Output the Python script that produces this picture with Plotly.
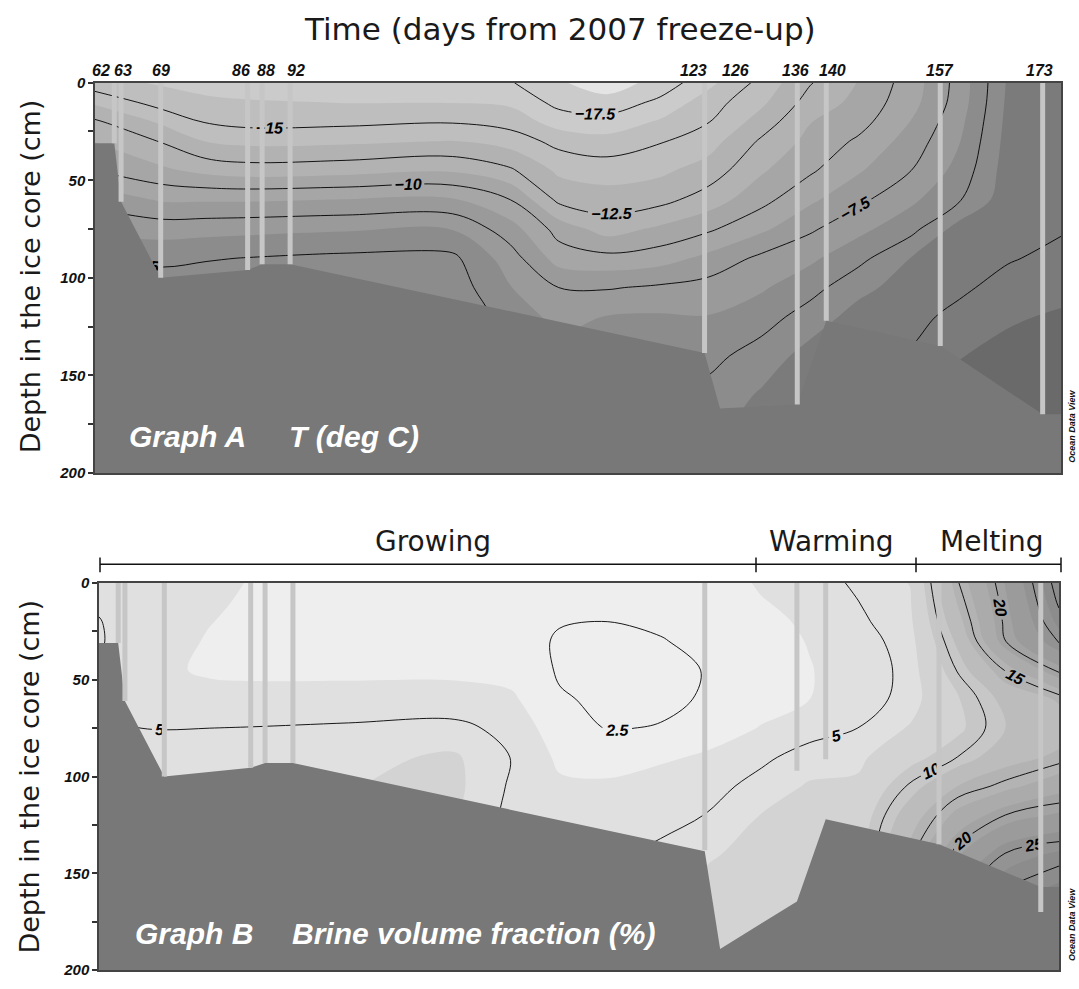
import numpy as np
import plotly.graph_objects as go

W, H = 1079, 989

# ---------------- sampling days and their places along the section (0-100) ----------------
days = [62, 63, 69, 86, 88, 92, 123, 126, 136, 140, 157, 173]
core_pos = [2.0, 2.7, 6.8, 15.8, 17.3, 20.2, 63.1, 64.7, 72.7, 75.7, 87.5, 98.1]
label_nudge = [-13, 2, 0, -7, 4, 6, -11, 15, -2, 6, 0, -3]  # px, keeps crowded labels apart

# sampled core length (cm) shown as vertical bars; None = no bar drawn
temp_core_len = [31, 61, 100, 96, 93, 93, 138.5, None, 165, 122, 135, 170]
brine_core_len = [31, 61, 100, 95.5, 93, 93, 138, None, 97, 91, 135, 170]
# deepest valid level per core (cm); the section below is masked
temp_ice_bottom = [31, 61, 100, 96, 93, 93, 138.5, 167, 165, 122, 135, 170]
brine_ice_bottom = [31, 61, 100, 95.5, 93, 93, 138.6, 189, 164.5, 122, 135, 157]

# ---------------- gridded fields ----------------
grid_x = [0, 7, 11.5, 16, 26, 37, 43, 48, 53, 58.5, 63.5, 69, 74, 79, 84.5, 89.5, 94.5, 100]
grid_depth = [0, 10, 20, 30, 45, 60, 75, 90, 105, 120, 140, 160, 180, 200]

# temperature (deg C), one profile per grid_x column, top to bottom
temp_profiles = [
    [-15.8, -14.0, -12.3, -11.3, -10.0, -7.9, -6.6, -5.0, -4.2, -3.8, -3.5, -3.3, -3.2, -3.1],
    [-16.4, -15.6, -14.0, -12.6, -11.0, -8.9, -6.8, -5.3, -4.3, -3.8, -3.5, -3.3, -3.2, -3.1],
    [-16.9, -15.9, -15.1, -13.8, -11.6, -8.9, -6.7, -5.1, -4.2, -3.7, -3.5, -3.3, -3.2, -3.1],
    [-17.2, -16.1, -15.4, -14.1, -11.9, -8.9, -6.6, -4.95, -4.0, -3.6, -3.4, -3.3, -3.2, -3.1],
    [-17.5, -16.3, -15.3, -14.0, -11.7, -8.7, -6.4, -4.7, -3.9, -3.6, -3.4, -3.3, -3.2, -3.1],
    [-17.35, -16.3, -15.1, -13.7, -11.4, -8.6, -6.3, -4.7, -4.3, -3.8, -3.5, -3.3, -3.2, -3.1],
    [-17.4, -16.5, -15.5, -14.3, -12.3, -10.0, -8.2, -6.9, -6.2, -5.6, -5.4, -5.3, -5.2, -5.2],
    [-18.6, -17.9, -16.8, -15.4, -14.0, -12.8, -10.5, -9.3, -7.5, -6.6, -5.8, -5.5, -5.4, -5.3],
    [-19.4, -18.3, -17.0, -15.8, -14.3, -13.2, -11.8, -9.6, -7.6, -6.2, -5.5, -5.3, -5.2, -5.1],
    [-18.3, -17.2, -16.1, -15.1, -14.0, -12.9, -11.0, -9.3, -7.3, -6.1, -5.3, -5.1, -5.0, -4.9],
    [-16.6, -15.6, -15.05, -14.3, -13.2, -11.9, -10.2, -8.4, -7.0, -6.2, -5.4, -4.6, -4.0, -3.5],
    [-14.6, -14.0, -13.2, -12.3, -11.4, -10.4, -9.0, -7.2, -6.4, -5.6, -4.4, -3.6, -3.2, -2.8],
    [-12.6, -12.0, -11.3, -10.9, -10.2, -9.0, -7.7, -6.5, -5.5, -4.4, -3.3, -2.8, -2.4, -2.0],
    [-11.2, -10.9, -10.5, -9.8, -8.9, -7.8, -6.6, -5.4, -4.1, -3.3, -2.7, -2.2, -1.8, -1.5],
    [-9.4, -9.2, -8.7, -8.2, -7.5, -6.5, -5.4, -3.7, -3.2, -2.8, -2.4, -2.0, -1.6, -1.3],
    [-7.0, -6.9, -6.6, -6.3, -5.8, -5.1, -3.2, -3.0, -2.7, -2.2, -1.3, -0.9, -0.6, -0.4],
    [-3.6, -3.5, -3.4, -3.3, -3.15, -3.0, -2.85, -2.6, -2.1, -1.4, -0.9, -0.6, -0.4, -0.2],
    [-3.4, -3.3, -3.2, -3.1, -2.95, -2.75, -2.6, -2.2, -1.6, -1.1, -0.7, -0.4, -0.2, 0.0],
]

# brine volume fraction (%), one profile per grid_x column, top to bottom
brine_profiles = [
    [4.6, 4.85, 5.05, 5.1, 4.95, 4.9, 5.05, 5.4, 5.8, 6.0, 6.1, 6.2, 6.2, 6.2],
    [4.1, 4.05, 4.0, 3.95, 3.85, 4.3, 4.97, 5.5, 6.0, 6.3, 6.5, 6.6, 6.7, 6.8],
    [3.95, 3.85, 3.77, 3.7, 3.65, 4.0, 5.0, 5.6, 6.1, 6.4, 6.6, 6.7, 6.8, 6.9],
    [3.7, 3.65, 3.6, 3.6, 3.6, 4.0, 5.05, 5.7, 6.2, 6.5, 6.7, 6.8, 6.9, 7.0],
    [3.1, 3.1, 3.15, 3.3, 3.55, 4.1, 5.2, 5.9, 6.2, 6.4, 6.5, 6.6, 6.7, 6.8],
    [2.8, 2.8, 2.9, 3.1, 3.5, 4.2, 5.35, 6.45, 6.6, 6.4, 6.2, 6.0, 5.8, 5.6],
    [2.9, 2.85, 2.8, 2.9, 3.3, 3.95, 4.6, 4.95, 4.8, 4.6, 4.5, 4.4, 4.3, 4.2],
    [2.75, 2.65, 2.55, 2.4, 2.38, 2.6, 3.0, 3.5, 3.95, 4.3, 4.6, 4.8, 4.9, 4.9],
    [2.75, 2.65, 2.5, 2.35, 2.2, 2.3, 2.45, 3.1, 4.0, 4.5, 4.8, 5.0, 5.2, 5.3],
    [3.0, 2.85, 2.65, 2.45, 2.25, 2.3, 2.55, 3.6, 4.2, 4.7, 5.2, 5.6, 5.9, 6.1],
    [3.3, 3.1, 2.9, 2.75, 2.55, 2.6, 3.3, 3.9, 4.5, 5.05, 6.0, 7.0, 7.6, 7.8],
    [3.85, 3.7, 3.5, 3.35, 3.3, 3.4, 3.8, 4.7, 5.5, 6.3, 7.0, 7.5, 7.9, 8.1],
    [4.1, 4.0, 3.9, 3.8, 3.7, 3.74, 4.4, 5.6, 6.4, 7.0, 7.5, 7.9, 8.2, 8.4],
    [5.3, 4.95, 4.7, 4.4, 4.2, 4.3, 5.0, 5.8, 6.6, 7.3, 7.8, 8.2, 8.5, 8.8],
    [6.3, 6.1, 5.9, 5.6, 5.4, 5.5, 6.4, 8.0, 10.3, 12.5, 14.5, 16.0, 17.5, 19.0],
    [14.9, 14.0, 13.0, 11.8, 10.2, 8.6, 8.3, 10.05, 13.8, 17.0, 21.0, 24.5, 27.0, 29.0],
    [21.5, 21.0, 20.6, 20.1, 15.2, 12.0, 11.3, 12.8, 15.6, 20.1, 25.2, 27.8, 30.0, 31.0],
    [28.5, 27.8, 26.8, 25.3, 20.5, 14.0, 12.6, 14.2, 17.8, 21.6, 26.6, 29.5, 31.0, 32.0],
]

# shading bands (ODV-like grey palette), lightest first
temp_band_colors = ["#e4e4e4", "#cbcbcb", "#bebebe", "#b2b2b2", "#a6a6a6",
                    "#9a9a9a", "#8c8c8c", "#7b7b7b", "#6a6a6a"]
brine_band_colors = ["#eeeeee", "#e0e0e0", "#d3d3d3", "#c7c7c7", "#bcbcbc", "#b3b3b3",
                     "#ababab", "#a3a3a3", "#9b9b9b", "#939393", "#8c8c8c", "#858585"]
MASK = "#787878"
CORE = "#c6c6c6"


def band_scale(colors):
    n = len(colors)
    return [[i / (n - 1), c] for i, c in enumerate(colors)]


def px_x(px):
    return px / W


def px_y(py):
    return 1 - py / H


LBL_FONT = dict(family="Liberation Sans", size=16, color="#000", weight="bold", style="italic")
BLACK = [[0, "#000"], [1, "#000"]]

fig = go.Figure()


def add_panel(profiles, colors, fill_start, fill_end, line_sets, ice_bottom, core_len, xa, ya):
    z = np.array(profiles).T
    fig.add_trace(go.Contour(
        x=grid_x, y=grid_depth, z=z, xaxis=xa, yaxis=ya,
        autocontour=False,
        contours=dict(start=fill_start, end=fill_end, size=2.5, coloring="fill", showlines=False),
        colorscale=band_scale(colors), showscale=False,
        line=dict(width=0, smoothing=1.0), hoverinfo="skip",
    ))
    for (s, e, step) in line_sets:
        fig.add_trace(go.Contour(
            x=grid_x, y=grid_depth, z=z, xaxis=xa, yaxis=ya,
            autocontour=False,
            contours=dict(start=s, end=e, size=step, coloring="lines",
                          showlabels=True, labelfont=LBL_FONT),
            colorscale=BLACK, showscale=False,
            line=dict(width=0.9, smoothing=1.0), hoverinfo="skip",
        ))
    # mask below the deepest valid level
    mx = [0] + core_pos + [100, 100, 0]
    my = [ice_bottom[0]] + ice_bottom + [ice_bottom[-1], 200, 200]
    fig.add_trace(go.Scatter(x=mx, y=my, xaxis=xa, yaxis=ya, mode="lines",
                             fill="toself", fillcolor=MASK, line=dict(width=0),
                             hoverinfo="skip", showlegend=False))
    # sampled cores
    cx, cy = [], []
    for p, L in zip(core_pos, core_len):
        if L is None:
            continue
        cx += [p, p, None]
        cy += [0, L, None]
    fig.add_trace(go.Scatter(x=cx, y=cy, xaxis=xa, yaxis=ya, mode="lines",
                             line=dict(color=CORE, width=5), hoverinfo="skip",
                             showlegend=False))


add_panel(temp_profiles, temp_band_colors, -18.75, -1.25,
          [(-17.5, -2.5, 2.5)], temp_ice_bottom, temp_core_len, "x", "y")
add_panel(brine_profiles, brine_band_colors, 3.75, 28.75,
          [(2.5, 5, 2.5), (10, 25, 5), (27.5, 27.5, 1)],
          brine_ice_bottom, brine_core_len, "x2", "y2")

TICK_FONT = dict(family="Liberation Sans", size=15, color="#111", weight="bold", style="italic")
DAY_FONT = dict(family="Liberation Sans", size=16, color="#111", weight="bold", style="italic")
yax = dict(range=[200, 0], tickvals=[0, 50, 100, 150, 200], ticks="outside", ticklen=5,
           tickwidth=1.5, tickcolor="#333", tickfont=TICK_FONT, showline=True,
           linecolor="#444", linewidth=1.5, mirror=True, showgrid=False, zeroline=False,
           minor=dict(dtick=25, ticks="outside", ticklen=5, tickwidth=1.5, tickcolor="#333",
                      showgrid=False))
xax = dict(range=[0, 100], showticklabels=False, ticks="", showline=True, linecolor="#444",
           linewidth=1.5, mirror=True, showgrid=False, zeroline=False)

fig.update_layout(
    width=W, height=H, margin=dict(l=0, r=0, t=0, b=0),
    paper_bgcolor="white", plot_bgcolor="white", showlegend=False,
    xaxis=dict(xax, domain=[px_x(95), px_x(1061)]),
    yaxis=dict(yax, domain=[px_y(472), px_y(75)]),
    xaxis2=dict(xax, domain=[px_x(99), px_x(1059)], anchor="y2"),
    yaxis2=dict(yax, domain=[px_y(978), px_y(584)], anchor="x2"),
)

SANS = "DejaVu Sans"
ann = []
ann.append(dict(text="Time (days from 2007 freeze-up)", x=px_x(560), y=px_y(20),
                xref="paper", yref="paper", showarrow=False,
                font=dict(family=SANS, size=31, color="#1a1a1a"),
                xanchor="center", yanchor="middle"))
for d, p, nudge in zip(days, core_pos, label_nudge):
    ann.append(dict(text=str(d), x=p, y=px_y(63), xref="x", yref="paper", xshift=nudge,
                    showarrow=False, font=DAY_FONT, xanchor="center", yanchor="middle"))
for yc in (272, 781):
    ann.append(dict(text="Depth in the ice core (cm)", x=px_x(30), y=px_y(yc),
                    xref="paper", yref="paper", showarrow=False, textangle=-90,
                    font=dict(family=SANS, size=27, color="#1a1a1a"),
                    xanchor="center", yanchor="middle"))
PANEL_FONT = dict(family="Liberation Sans", size=30, color="white", weight="bold", style="italic")
for txt, xl, yc in (("Graph A", 127, 435), ("T (deg C)", 287, 435),
                    ("Graph B", 133, 941), ("Brine volume fraction (%)", 290, 941)):
    ann.append(dict(text=txt, x=px_x(xl), y=px_y(yc), xref="paper", yref="paper",
                    showarrow=False, font=PANEL_FONT, xanchor="left", yanchor="middle"))
for yc in (425, 932):
    ann.append(dict(text="Ocean Data View", x=px_x(1072), y=px_y(yc), xref="paper",
                    yref="paper", showarrow=False, textangle=-90,
                    font=dict(family="Liberation Sans", size=9, color="#111",
                              weight="bold", style="italic"),
                    xanchor="center", yanchor="middle"))

# season bracket above the lower panel
phases = ["Growing", "Warming", "Melting"]
phase_edges_px = [100, 756, 916, 1061]
phase_label_px = [433, 831, 992]
shapes = [dict(type="line", xref="paper", yref="paper", x0=px_x(phase_edges_px[0]),
               x1=px_x(phase_edges_px[-1]), y0=px_y(565), y1=px_y(565),
               line=dict(color="#111", width=1.5))]
for e in phase_edges_px:
    shapes.append(dict(type="line", xref="paper", yref="paper", x0=px_x(e), x1=px_x(e),
                       y0=px_y(558), y1=px_y(573), line=dict(color="#111", width=1.5)))
for name, xc in zip(phases, phase_label_px):
    ann.append(dict(text=name, x=px_x(xc), y=px_y(542), xref="paper", yref="paper",
                    showarrow=False, font=dict(family=SANS, size=28, color="#1a1a1a"),
                    xanchor="center", yanchor="middle"))

fig.update_layout(annotations=ann, shapes=shapes)
fig.write_html("out.html")
